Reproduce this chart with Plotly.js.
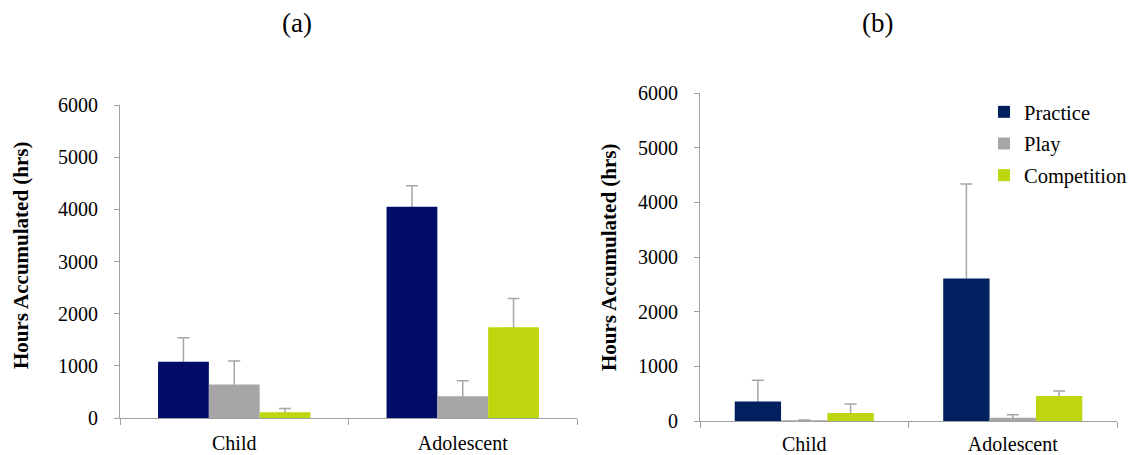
<!DOCTYPE html>
<html>
<head>
<meta charset="utf-8">
<script src="https://cdn.plot.ly/plotly-3.0.1.min.js"></script>
<style>html,body{margin:0;padding:0;background:#fff;}#chart{width:1134px;height:455px;}</style>
</head>
<body>
<div id="chart"></div>
<script>
const categories = ['Child', 'Adolescent'];
const seriesNames = ['Practice', 'Play', 'Competition'];

// Panel (a)
const aPractice = [1080, 4050];
const aPracticeErr = [460, 400];
const aPlay = [640, 415];
const aPlayErr = [455, 300];
const aCompetition = [110, 1740];
const aCompetitionErr = [70, 550];

// Panel (b)
const bPractice = [355, 2605];
const bPracticeErr = [390, 1730];
const bPlay = [12, 60];
const bPlayErr = [5, 55];
const bCompetition = [146, 457];
const bCompetitionErr = [165, 91];

const yTicks = [0, 1000, 2000, 3000, 4000, 5000, 6000];

const colorsA = ['#000c66', '#a6a6a6', '#bed60e'];
const colorsB = ['#002060', '#a6a6a6', '#bed60e'];
const errColor = '#a6a6a6';
const serif = 'Liberation Serif';

function barTrace(name, vals, color, xa, ya, showLegend) {
  return {
    type: 'bar', name: name, x: categories, y: vals,
    xaxis: xa, yaxis: ya, showlegend: showLegend, legendgroup: name,
    marker: {color: color, line: {width: 0}},
    hoverinfo: 'skip'
  };
}
// transparent bars that carry the upward error bars; their lower cap hides under the visible bar
const hide = 25;
function errTrace(name, vals, errs, xa, ya) {
  return {
    type: 'bar', name: name, x: categories, y: vals.map(v => Math.max(v - hide, 0)),
    xaxis: xa, yaxis: ya, showlegend: false,
    marker: {color: 'rgba(0,0,0,0)', line: {width: 0}},
    error_y: {type: 'data', symmetric: false,
              array: errs.map((e, i) => e + (vals[i] - Math.max(vals[i] - hide, 0))),
              arrayminus: vals.map(() => 0),
              color: errColor, thickness: 1.5, width: 6},
    hoverinfo: 'skip'
  };
}

const data = [
  errTrace(seriesNames[0], aPractice, aPracticeErr, 'x', 'y'),
  errTrace(seriesNames[1], aPlay, aPlayErr, 'x', 'y'),
  errTrace(seriesNames[2], aCompetition, aCompetitionErr, 'x', 'y'),
  errTrace(seriesNames[0], bPractice, bPracticeErr, 'x2', 'y2'),
  errTrace(seriesNames[1], bPlay, bPlayErr, 'x2', 'y2'),
  errTrace(seriesNames[2], bCompetition, bCompetitionErr, 'x2', 'y2'),
  barTrace(seriesNames[0], aPractice, colorsA[0], 'x3', 'y3', false),
  barTrace(seriesNames[1], aPlay, colorsA[1], 'x3', 'y3', false),
  barTrace(seriesNames[2], aCompetition, colorsA[2], 'x3', 'y3', false),
  barTrace(seriesNames[0], bPractice, colorsB[0], 'x4', 'y4', true),
  barTrace(seriesNames[1], bPlay, colorsB[1], 'x4', 'y4', true),
  barTrace(seriesNames[2], bCompetition, colorsB[2], 'x4', 'y4', true)
];

const W = 1134, H = 455;
function xa(l, r, standoff) {
  return {
    domain: [l / W, r / W], type: 'category', showgrid: false, zeroline: false,
    showline: true, linecolor: '#a0a0a0', linewidth: 1,
    ticks: 'outside', tickson: 'boundaries', ticklen: 6, tickcolor: '#a0a0a0',
    tickfont: {family: serif, size: 20, color: '#000'},
    ticklabelstandoff: standoff, automargin: false, fixedrange: true
  };
}
function ya(top, bottom, anchor) {
  return {
    domain: [(H - bottom) / H, (H - top) / H], anchor: anchor,
    range: [0, 6000], tickvals: yTicks, ticktext: yTicks.map(String),
    showgrid: false, zeroline: false, showline: true, linecolor: '#a0a0a0', linewidth: 1,
    ticks: 'outside', ticklen: 5, tickcolor: '#a0a0a0',
    tickfont: {family: serif, size: 20, color: '#000'},
    ticklabelstandoff: 12, automargin: false, fixedrange: true
  };
}
function hiddenX(over) {
  return {overlaying: over, type: 'category', visible: false, fixedrange: true,
          anchor: over === 'x' ? 'y3' : 'y4'};
}
function hiddenY(over, xanc) {
  return {overlaying: over, range: [0, 6000], visible: false, fixedrange: true, anchor: xanc};
}

const layout = {
  width: W, height: H,
  margin: {l: 0, r: 0, t: 0, b: 0},
  paper_bgcolor: '#fff', plot_bgcolor: '#fff',
  barmode: 'group', bargap: 0.333, bargroupgap: 0,
  xaxis: Object.assign(xa(120, 577, 7), {anchor: 'y'}),
  yaxis: ya(105, 418, 'x'),
  xaxis2: Object.assign(xa(700, 1117, 5), {anchor: 'y2'}),
  yaxis2: ya(93, 421, 'x2'),
  xaxis3: hiddenX('x'),
  yaxis3: hiddenY('y', 'x3'),
  xaxis4: hiddenX('x2'),
  yaxis4: hiddenY('y2', 'x4'),
  showlegend: true,
  legend: {
    x: 984 / W, xanchor: 'left', y: (H - 92) / H, yanchor: 'top',
    bgcolor: 'rgba(0,0,0,0)', borderwidth: 0,
    font: {family: serif, size: 20.5, color: '#000'},
    traceorder: 'grouped', tracegroupgap: 2
  },
  annotations: [
    {text: '(a)', xref: 'paper', yref: 'paper', x: 297 / W, y: (H - 23) / H,
     showarrow: false, xanchor: 'center', yanchor: 'middle',
     font: {family: serif, size: 27, color: '#000'}},
    {text: '(b)', xref: 'paper', yref: 'paper', x: 877 / W, y: (H - 23) / H,
     showarrow: false, xanchor: 'center', yanchor: 'middle',
     font: {family: serif, size: 27, color: '#000'}},
    {text: '<b>Hours Accumulated (hrs)</b>', xref: 'paper', yref: 'paper',
     x: 21 / W, y: (H - 255) / H, textangle: -90, showarrow: false,
     xanchor: 'center', yanchor: 'middle',
     font: {family: serif, size: 21, color: '#000'}},
    {text: '<b>Hours Accumulated (hrs)</b>', xref: 'paper', yref: 'paper',
     x: 609 / W, y: (H - 257) / H, textangle: -90, showarrow: false,
     xanchor: 'center', yanchor: 'middle',
     font: {family: serif, size: 21, color: '#000'}}
  ]
};

Plotly.newPlot('chart', data, layout, {displayModeBar: false, staticPlot: true});
</script>
</body>
</html>
